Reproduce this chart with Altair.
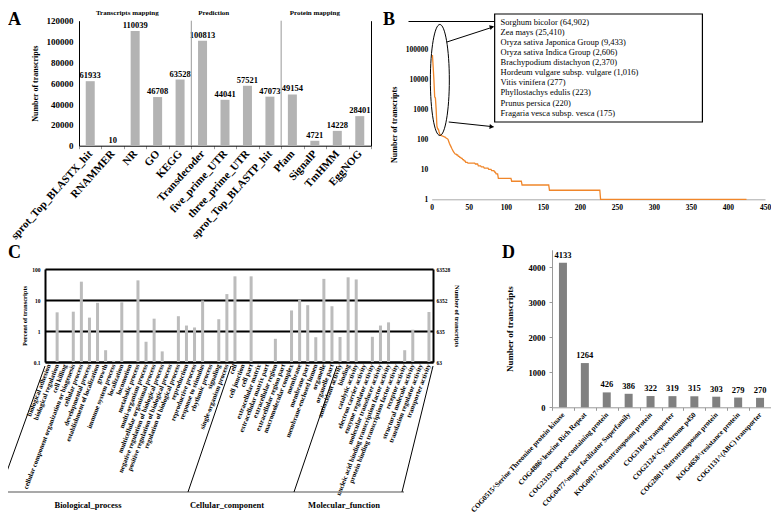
import altair as alt
import pandas as pd

FONT = "Liberation Serif"
W, H = 763, 511

# ---------------- data ----------------
a_categories = ["sprot_Top_BLASTX_hit", "RNAMMER", "NR", "GO", "KEGG", "Transdecoder",
                "five_prime_UTR", "three_prime_UTR", "sprot_Top_BLASTP_hit", "Pfam",
                "SignalP", "TmHMM", "EggNOG"]
a_values = [61933, 10, 110039, 46708, 63528, 100813, 44041, 57521, 47073, 49154, 4721, 14228, 28401]
a_group_labels = ["Transcripts mapping", "Prediction", "Protein mapping"]
a_group_anchor = ["NR", "five_prime_UTR", "SignalP"]
a_separators_after = ["KEGG", "sprot_Top_BLASTP_hit"]

b_species = ["Sorghum bicolor", "Zea mays", "Oryza sativa Japonica Group", "Oryza sativa Indica Group",
             "Brachypodium distachyon", "Hordeum vulgare subsp. vulgare", "Vitis vinifera",
             "Phyllostachys edulis", "Prunus persica", "Fragaria vesca subsp. vesca"]
b_top_counts = [64902, 25410, 9433, 2606, 2370, 1016, 277, 223, 220, 175]
b_tail_counts = [145, 140, 135, 130, 127, 124, 121, 118, 112, 108, 104, 100,
                 85, 72, 64, 57, 50, 45, 40, 37, 34,
                 32, 30, 27, 25, 23, 21, 19,
                 17, 16, 15, 13, 12, 11, 10, 9, 8, 7,
                 5, 4, 3, 2, 1]
b_tail_runs = [1, 1, 1, 1, 1, 1, 1, 1, 1, 1, 1, 1,
               1, 1, 1, 1, 1, 1, 1, 1, 1,
               2, 2, 2, 2, 2, 2, 2,
               3, 10, 4, 4, 4, 6, 4, 4, 2, 3,
               18, 14, 37, 69, 198]

c_terms = ["biological adhesion", "biological regulation", "cell killing",
           "cellular component organization or biogenesis", "cellular process",
           "developmental process", "establishment of localization", "growth",
           "immune system process", "localization", "locomotion", "metabolic process",
           "multi-organism process", "multicellular organismal process",
           "negative regulation of biological process", "positive regulation of biological process",
           "regulation of biological process", "reproduction", "reproductive process",
           "response to stimulus", "rhythmic process", "signaling", "single-organism process",
           "cell", "cell junction", "cell part", "extracellular matrix", "extracellular matrix part",
           "extracellular region", "extracellular region part", "macromolecular complex",
           "membrane", "membrane part", "membrane-enclosed lumen", "organelle", "organelle part",
           "antioxidant activity", "binding", "catalytic activity", "electron carrier activity",
           "enzyme regulator activity", "molecular transducer activity",
           "nucleic acid binding transcription factor activity",
           "protein binding transcription factor activity", "receptor activity",
           "structural molecule activity", "translation regulator activity", "transporter activity"]
c_percent = [None, 4.0, None, 4.2, 39, 2.7, 8.1, 0.24, 0.11, 8.4, None, 43, 0.45, 2.5, 0.22, None,
             3.0, 1.5, 1.3, 9.7, None, 2.4, 15.5,
             58, None, 58, None, None, 0.56, None, 4.6, 10.2, 6.8, 0.63, 48, 6.3,
             0.64, 54, 46, None, 0.65, 1.5, 1.9, None, 0.24, 1.1, None, 4.1]
c_groups = ["Biological_process", "Cellular_component", "Molecular_function"]
c_right_ticks = [0.1, 1, 10, 100]
c_right_labels = ["63", "635", "6352", "63528"]

d_cats = ["COG0515^Serine Threonine protein kinase", "COG4886^leucine Rich Repeat",
          "COG2319^repeat-containing protein", "COG0477^major facilitator Superfamily",
          "KOG0017^Retrotransposon protein", "COG3104^transporter", "COG2124^Cytochrome p450",
          "COG2801^Retrotransposon protein", "KOG4658^resistance protein", "COG1131^(ABC) transporter"]
d_values = [4133, 1264, 426, 386, 322, 319, 315, 303, 279, 270]

panel_letters = ["A", "B", "C", "D"]

assert len(c_terms) == len(c_percent)

one = pd.DataFrame({"k": [0]})

# ---------------- panel A ----------------
dfA = pd.DataFrame({"cat": a_categories, "val": a_values})
scA_x = alt.Scale(domain=a_categories, range=[71, 363], paddingInner=0, paddingOuter=0)
scA_y = alt.Scale(domain=[0, 120000], range=[137.7, 12.7], nice=False, zero=False)
axA_x = alt.Axis(orient="bottom", offset=137.7 - H, title=None, labelAngle=-48, labelFontSize=11,
                 labelPadding=3, ticks=True, tickBand="extent", tickSize=3, tickColor="#999",
                 domainColor="black", domainWidth=1, labelLimit=300, grid=False)
axA_y = alt.Axis(orient="left", offset=-71, values=[0, 20000, 40000, 60000, 80000, 100000, 120000],
                 format="d", title="Number of transcripts", titleFontSize=8, labelFontSize=9,
                 ticks=False, labelPadding=6, titlePadding=7, domainColor="black", grid=False)
axA_frame = alt.Axis(orient="right", offset=363 - W, values=[120000], labels=False, ticks=False,
                     grid=True, gridColor="black", gridWidth=1, domainColor="black", title=None)

xA = alt.X("cat:N", sort=a_categories, scale=scA_x, axis=axA_x)
yA = alt.Y("val:Q", scale=scA_y, axis=axA_y)

a_bars = alt.Chart(dfA).mark_bar(size=9, color="#b3b3b3").encode(x=xA, y=yA, y2=alt.datum(0))
a_text = alt.Chart(dfA).mark_text(baseline="bottom", dy=-1, fontSize=8.5, fontWeight="bold",
                                  font=FONT, color="black").encode(
    x=xA, y=yA, text=alt.Text("val:Q", format="d"))
a_sep = alt.Chart(pd.DataFrame({"cat": a_separators_after})).mark_rule(color="#999", strokeWidth=1).encode(
    x=alt.X("cat:N", sort=a_categories, scale=scA_x, axis=axA_x, bandPosition=1),
    y=alt.YDatum(0, type="quantitative", scale=scA_y, axis=axA_y), y2=alt.datum(120000))
a_heads = []
for lab, anc, bp in zip(a_group_labels, a_group_anchor, [0.15, 0.0, 0.5]):
    a_heads.append(alt.Chart(one).mark_text(fontSize=7, fontWeight="bold", font=FONT,
                                            baseline="middle", color="black").encode(
        x=alt.XDatum(anc, type="nominal", scale=scA_x, axis=axA_x, bandPosition=bp),
        y=alt.YDatum(127400, type="quantitative", scale=scA_y, axis=axA_y),
        text=alt.value(lab)))
a_frame = alt.Chart(dfA).mark_point(opacity=0).encode(
    x=xA, y=alt.Y("val:Q", scale=scA_y, axis=axA_frame))
panelA = alt.layer(alt.layer(a_bars, a_text, a_sep, *a_heads), a_frame).resolve_scale(y="independent")

# ---------------- panel B ----------------
counts = list(b_top_counts)
for c, r in zip(b_tail_counts, b_tail_runs):
    counts += [c] * r
dfB = pd.DataFrame({"rank": list(range(1, len(counts) + 1)), "count": counts})
scB_x = alt.Scale(domain=[0, 450], range=[423.7, 757], nice=False, zero=False)
scB_y = alt.Scale(type="log", domain=[1, 100000], range=[191.3, 41.3], nice=False)
axB_x = alt.Axis(orient="bottom", offset=191.3 - H, values=list(range(0, 451, 50)), title=None,
                 labelFontSize=7.5, ticks=False, labelPadding=4, domainColor="#aaa", grid=False,
                 labelAngle=0, labelFlush=False)
axB_y = alt.Axis(orient="left", offset=-423.7, values=[1, 10, 100, 1000, 10000, 100000], format="d",
                 title="Number of transcripts", titleFontSize=8, labelFontSize=7.5, ticks=False,
                 domain=False, labelPadding=4, titlePadding=7, grid=False)


def bx(v):
    return alt.XDatum(v, type="quantitative", scale=scB_x, axis=axB_x)


def by(v):
    return alt.YDatum(v, type="quantitative", scale=scB_y, axis=axB_y)


b_line = alt.Chart(dfB).mark_line(color="#F0862A", strokeWidth=1.3).encode(
    x=alt.X("rank:Q", scale=scB_x, axis=axB_x), y=alt.Y("count:Q", scale=scB_y, axis=axB_y))

ELLIPSE = ("M 0 -1 C 0.0945 -1 0.171 -0.5523 0.171 0 C 0.171 0.5523 0.0945 1 0 1 "
           "C -0.0945 1 -0.171 0.5523 -0.171 0 C -0.171 -0.5523 -0.0945 -1 0 -1 Z")
b_ell = alt.Chart(one).mark_point(shape=ELLIPSE, size=12321, filled=False, color="black",
                                  strokeWidth=1, opacity=1).encode(x=bx(11), y=by(9500))
b_arrow1 = alt.Chart(one).mark_rule(color="black", strokeWidth=1).encode(
    x=bx(20.5), y=by(175000), x2=alt.datum(83.5), y2=alt.datum(560000))
b_arrow2 = alt.Chart(one).mark_rule(color="black", strokeWidth=1).encode(
    x=bx(23), y=by(377), x2=alt.datum(83.5), y2=alt.datum(262))
b_head1 = alt.Chart(one).mark_point(shape="triangle-right", filled=True, color="black", size=24,
                                    angle=341.6, opacity=1).encode(x=bx(81.2), y=by(553000))
b_head2 = alt.Chart(one).mark_point(shape="triangle-right", filled=True, color="black", size=24,
                                    angle=6.2, opacity=1).encode(x=bx(81), y=by(263))
b_box = alt.Chart(one).mark_rect(fill="white", stroke="black", strokeWidth=1.2).encode(
    x=bx(85), x2=alt.datum(365.5), y=by(377), y2=alt.datum(1.503e6))
box_text = "\n".join(f"{s} ({n:,})" for s, n in zip(b_species, b_top_counts))
b_text = alt.Chart(one).mark_text(align="left", baseline="top", lineBreak="\n", lineHeight=10.07,
                                  fontSize=8.5, font=FONT, color="black").encode(
    x=bx(93), y=by(1.105e6), text=alt.value(box_text))
panelB = alt.layer(b_line, b_ell, b_arrow1, b_arrow2, b_head1, b_head2, b_box, b_text)

# ---------------- panel C ----------------
dfC = pd.DataFrame({"term": c_terms, "pct": c_percent})
scC_x = alt.Scale(domain=c_terms, range=[37, 425], paddingInner=0, paddingOuter=0)
scC_y = alt.Scale(type="log", domain=[0.1, 100], range=[354, 261], nice=False)
scC_y2 = alt.Scale(type="log", domain=[0.1, 100], range=[354, 261], nice=False)
axC_x = alt.Axis(orient="bottom", offset=354 - H, title=None, labelAngle=-69, labelFontSize=6.8,
                 labelPadding=2, ticks=False, domainColor="black", domainWidth=2, labelLimit=300,
                 grid=False)
axC_y = alt.Axis(orient="left", offset=-37, values=c_right_ticks, format="~g",
                 title="Percent of transcripts", titleFontSize=6.5, labelFontSize=5.5, ticks=False,
                 labelPadding=5, titlePadding=4, domainColor="black", domainWidth=2, grid=True,
                 gridColor="black", gridWidth=2)
right_expr = " : ".join(f"datum.value == {v} ? '{l}'" for v, l in zip(c_right_ticks[:-1], c_right_labels[:-1]))
right_expr += f" : '{c_right_labels[-1]}'"
axC_y2 = alt.Axis(orient="right", offset=425 - W, values=c_right_ticks, labelExpr=right_expr,
                  title="Number of transcripts", titleFontSize=6.5, labelFontSize=5.5, ticks=False,
                  labelPadding=3, titlePadding=4, domainColor="black", domainWidth=2, grid=False)
xC = alt.X("term:N", sort=c_terms, scale=scC_x, axis=axC_x)
c_bars = alt.Chart(dfC).mark_bar(size=3, color="#bcbcbc").encode(
    x=xC, y=alt.Y("pct:Q", scale=scC_y, axis=axC_y), y2=alt.datum(0.1))
c_right = alt.Chart(dfC).mark_bar(size=3, opacity=0).encode(
    x=xC, y=alt.Y("pct:Q", scale=scC_y2, axis=axC_y2), y2=alt.datum(0.1))
panelC = alt.layer(c_bars, c_right).resolve_scale(y="independent")


def seg(x1, y1, x2, y2, color="black", w=1.0):
    return alt.Chart(one).mark_rule(color=color, strokeWidth=w).encode(
        x=alt.value(x1), y=alt.value(y1), x2=alt.value(x2), y2=alt.value(y2))


c_decor = [
    seg(0, 484, 396, 484, color="#8c8c8c", w=1.6),
    seg(-8.5, 484, 37, 358),
    seg(180, 484, 223, 358),
    seg(286, 484, 329, 358),
    seg(394, 484, 425, 358),
]
for lab, cx in zip(c_groups, [80, 219, 336]):
    c_decor.append(alt.Chart(one).mark_text(fontSize=8.5, fontWeight="bold", font=FONT,
                                            color="black", baseline="middle").encode(
        x=alt.value(cx), y=alt.value(497), text=alt.value(lab)))

# ---------------- panel D ----------------
dfD = pd.DataFrame({"cog": d_cats, "n": d_values})
scD_x = alt.Scale(domain=d_cats, range=[544, 763], paddingInner=0, paddingOuter=0)
scD_y = alt.Scale(domain=[0, 4500], range=[399.3, 241.8], nice=False, zero=False)
axD_x = alt.Axis(orient="bottom", offset=399.3 - H, title=None, labelAngle=-47, labelFontSize=7.2,
                 labelPadding=3, ticks=True, tickBand="extent", tickSize=3, tickColor="#999",
                 domainColor="#999", labelLimit=300, grid=False)
axD_y = alt.Axis(orient="left", offset=-544, values=[0, 1000, 2000, 3000, 4000], format="d",
                 title="Number of transcripts", titleFontSize=9, labelFontSize=8.5, ticks=True,
                 tickSize=3, tickColor="#999", domainColor="#999", labelPadding=4, titlePadding=14,
                 grid=False)
xD = alt.X("cog:N", sort=d_cats, scale=scD_x, axis=axD_x)
yD = alt.Y("n:Q", scale=scD_y, axis=axD_y)
d_bars = alt.Chart(dfD).mark_bar(size=8, color="#808080").encode(x=xD, y=yD, y2=alt.datum(0))
d_text = alt.Chart(dfD).mark_text(baseline="bottom", dy=-3, fontSize=8.5, fontWeight="bold",
                                  font=FONT, color="black").encode(
    x=xD, y=yD, text=alt.Text("n:Q", format="d"))
panelD = alt.layer(d_bars, d_text)

# ---------------- panel letters ----------------
letters = []
for lab, (lx, ly) in zip(panel_letters, [(0, 17), (375, 17), (0, 250), (494, 250)]):
    letters.append(alt.Chart(one).mark_text(fontSize=18, fontWeight="bold", font=FONT, color="black",
                                            align="left", baseline="alphabetic").encode(
        x=alt.value(lx), y=alt.value(ly), text=alt.value(lab)))

chart = alt.layer(panelA, panelB, panelC, panelD, *c_decor, *letters).resolve_scale(
    x="independent", y="independent"
).properties(
    width=W, height=H, padding=0, autosize=alt.AutoSizeParams(type="none")
).configure_view(stroke=None).configure_axis(
    labelFont=FONT, titleFont=FONT, labelColor="black", titleColor="black",
    labelFontWeight="bold", titleFontWeight="bold", labelFlush=False
)

chart.save("out.html", embed_options={"renderer": "svg", "actions": False})
